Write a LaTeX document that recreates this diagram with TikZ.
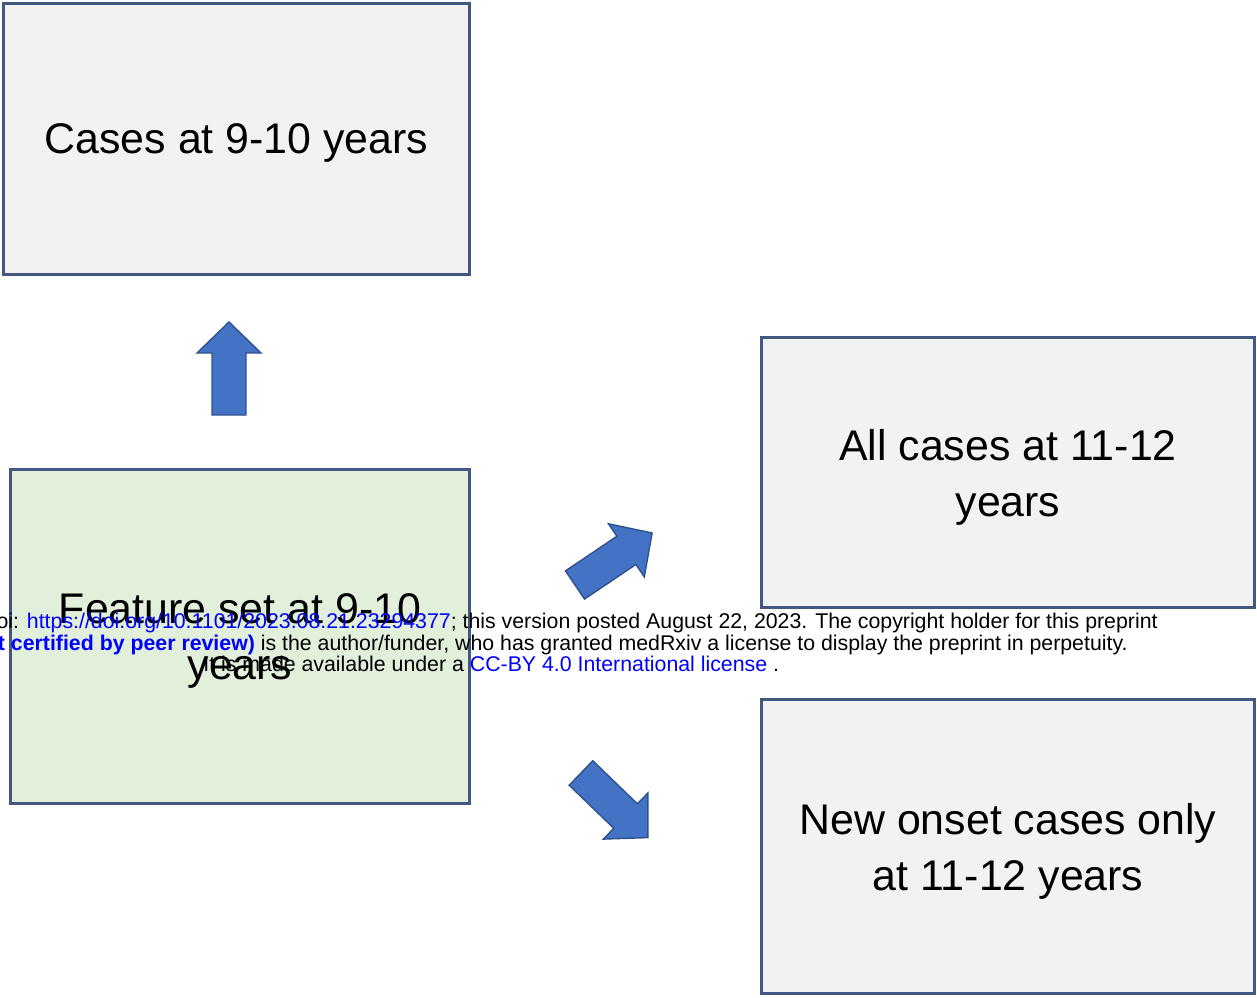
\documentclass[tikz,border=0pt]{standalone}
\usepackage{fontspec}
\setmainfont{Liberation Sans}
\usepackage{xcolor}
\definecolor{boxGray}{RGB}{242,242,242}
\definecolor{boxGreen}{RGB}{226,239,218}
\definecolor{boxEdge}{RGB}{66,88,128}
\definecolor{arrFill}{RGB}{68,114,196}
\definecolor{arrEdge}{RGB}{47,82,143}
\definecolor{linkBlue}{RGB}{0,0,255}

\begin{document}
\begin{tikzpicture}[
  x=0.02cm, y=-0.02cm,
  box/.style={draw=boxEdge, line width=1.7pt, fill=boxGray, align=center,
              inner sep=0pt, text depth=0pt, font=\fontsize{24.4}{31.9}\selectfont},
  blockarrow/.pic={
    \draw[fill=arrFill, draw=arrEdge, line width=0.8pt]
      (0,-17) -- (62,-17) -- (62,-32) -- (93,0) -- (62,32) -- (62,17) -- (0,17) -- cycle;
  },
  note/.style={font=\fontsize{12.13}{14}\selectfont, inner sep=0pt}
]
  \useasboundingbox[fill=white] (0,0) rectangle (1257,997);

  % ── boxes ──
  \node[box, minimum width=9.34cm, minimum height=5.44cm] (cases) at (236.5,139)
    {Cases at 9-10 years};
  \node[box, fill=boxGreen, minimum width=9.2cm, minimum height=6.7cm] (feat) at (240,636.5)
    {Feature set at 9-10\\years};
  \node[box, minimum width=9.88cm, minimum height=5.42cm] (allc) at (1008,472.5)
    {All cases at 11-12\\years};
  \node[box, minimum width=9.88cm, minimum height=5.9cm] (newc) at (1008,846.5)
    {New onset cases only\\at 11-12 years};

  % ── block arrows ──
  \pic[rotate=90]  (upA) at (229,415) {blockarrow};
  \pic[rotate=34]  (neA) at (575,585) {blockarrow};
  \pic[rotate=-44] (seA) at (581,773) {blockarrow};

  % ── preprint stamp ──
  \node[note, anchor=base east] (doi) at (1158,628)
    {doi: \textcolor{linkBlue}{https://doi.org/10.1101/2023.08.21.23294377}; this version posted August 22, 2023. The copyright holder for this preprint};
  \node[note, anchor=base east] (rev) at (1128,650)
    {\textcolor{linkBlue}{\bfseries (which was not certified by peer review)} is the author/funder, who has granted medRxiv a license to display the preprint in perpetuity.};
  \node[note, anchor=base west] (lic) at (203,671.5)
    {It is made available under a \textcolor{linkBlue}{CC-BY 4.0 International license} .};
\end{tikzpicture}
\end{document}
